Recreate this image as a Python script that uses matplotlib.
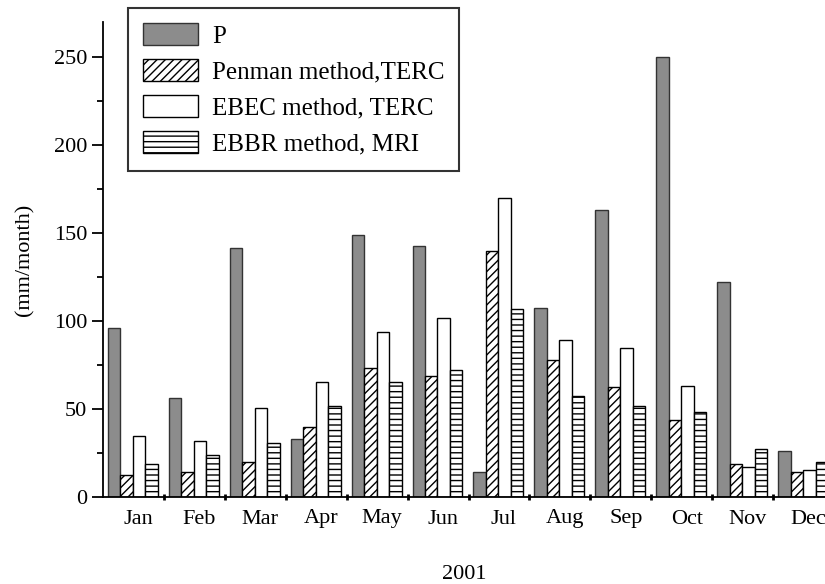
import numpy as np
import matplotlib
matplotlib.use("Agg")
import matplotlib.pyplot as plt

plt.rcParams['font.family'] = ['Liberation Serif', 'DejaVu Serif']
plt.rcParams['hatch.linewidth'] = 1.0

months = ['Jan', 'Feb', 'Mar', 'Apr', 'May', 'Jun', 'Jul', 'Aug', 'Sep', 'Oct', 'Nov', 'Dec']
p_vals = [96, 56.5, 141.5, 33, 149, 142.5, 14, 107.5, 163, 250, 122, 26]
penman = [12.5, 14, 20, 40, 73.5, 68.5, 140, 78, 62.5, 44, 19, 14]
ebec = [34.5, 32, 50.5, 65.5, 94, 102, 170, 89.5, 84.5, 63, 17, 15.5]
ebbr = [18.5, 24, 30.5, 51.5, 65.5, 72, 107, 57.5, 51.5, 48.5, 27.5, 20]
labels = ['P', 'Penman method,TERC', 'EBEC method, TERC', 'EBBR method, MRI']

fig = plt.figure(figsize=(8.25, 5.84), dpi=100)
ax = fig.add_axes([103/825, 1 - 497/584, 1 - 103/825, (497 - 22)/584])

x = np.arange(len(months))
w = 0.205
off = -0.5 + 0.08 + w/2
b1 = ax.bar(x + off, p_vals, w, color='#8c8c8c', edgecolor='#333333', lw=1.0, label=labels[0])
b2 = ax.bar(x + off + w, penman, w, color='white', edgecolor='black', hatch='////', lw=1.0, label=labels[1])
b3 = ax.bar(x + off + 2*w, ebec, w, color='white', edgecolor='black', lw=1.0, label=labels[2])
b4 = ax.bar(x + off + 3*w, ebbr, w, color='white', edgecolor='black', hatch='---', lw=1.0, label=labels[3])

ax.set_xlim(-0.5, 11.35)
ax.set_ylim(0, 270)
ax.spines['top'].set_visible(False)
ax.spines['right'].set_visible(False)
ax.spines['left'].set_linewidth(1.3)
ax.spines['bottom'].set_linewidth(1.3)

ax.set_yticks([0, 50, 100, 150, 200, 250])
ax.set_yticks([25, 75, 125, 175, 225], minor=True)
ax.tick_params(axis='y', which='major', direction='out', length=8, width=1.3, labelsize=16)
ax.tick_params(axis='y', which='minor', direction='out', length=4, width=1.3)

ax.set_xticks(x + 0.08)
ax.set_xticklabels(months)
ax.set_xticks(x[1:] - 0.5, minor=True)
ax.tick_params(axis='x', which='major', length=0, labelsize=16, pad=9)
ax.tick_params(axis='x', which='minor', direction='inout', length=5, width=2)

ax.set_ylabel('(mm/month)', fontsize=16, labelpad=14)
ax.set_xlabel('2001', fontsize=16, labelpad=26)

leg = fig.legend(handles=[b1, b2, b3, b4], loc='upper left',
                 bbox_to_anchor=(128/825, 1 - 8/584), fontsize=18,
                 frameon=True, fancybox=False, edgecolor='black',
                 handlelength=2.2, handleheight=1.0, labelspacing=0.45,
                 borderpad=0.6, handletextpad=0.55, borderaxespad=0)
leg.get_frame().set_linewidth(1.5)

fig.savefig('out.png', dpi=100)
